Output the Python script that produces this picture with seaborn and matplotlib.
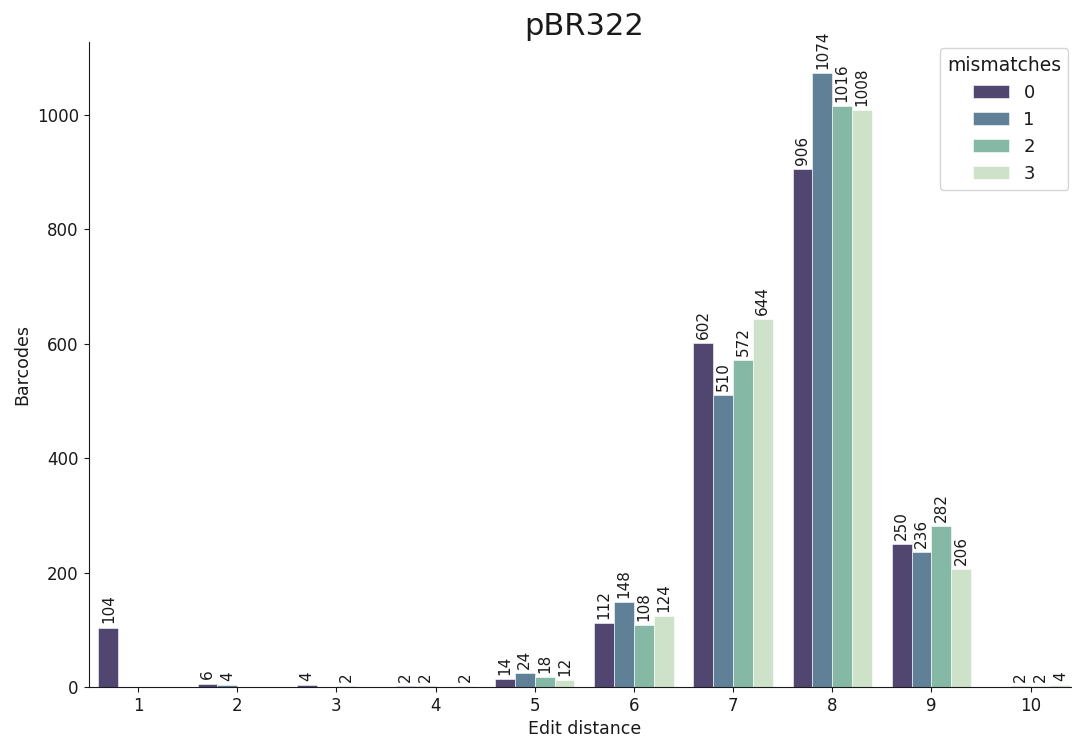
import matplotlib
matplotlib.use("Agg")
import matplotlib.pyplot as plt
import seaborn as sns
import pandas as pd

# ---- data ----
edit_distance = [1, 2, 3, 4, 5, 6, 7, 8, 9, 10]
mismatch_levels = ["0", "1", "2", "3"]
mm0 = [104, 6, 4, 2, 14, 112, 602, 906, 250, None]
mm1 = [None, 4, None, 2, 24, 148, 510, 1074, 236, 2]
mm2 = [None, None, 2, None, 18, 108, 572, 1016, 282, 2]
mm3 = [None, None, None, 2, 12, 124, 644, 1008, 206, 4]
colors = ["#504670", "#608098", "#86B9A5", "#CEE2CA"]

rows = []
for lvl, vals in zip(mismatch_levels, [mm0, mm1, mm2, mm3]):
    for d, v in zip(edit_distance, vals):
        if v is not None:
            rows.append({"Edit distance": d, "mismatches": lvl, "Barcodes": v})
df = pd.DataFrame(rows)

sns.set_style("ticks")
plt.rcParams["font.family"] = ["DejaVu Sans"]
for k in ["text.color", "axes.labelcolor", "xtick.color", "ytick.color"]:
    plt.rcParams[k] = "#1a1a1a"
plt.rcParams["axes.edgecolor"] = "#1a1a1a"

fig = plt.figure(figsize=(10.72, 7.4), dpi=100)
ax = fig.add_axes([0.0826, 0.0716, 0.925, 0.8716])

sns.barplot(data=df, x="Edit distance", y="Barcodes", hue="mismatches",
            order=edit_distance, hue_order=mismatch_levels,
            palette=colors, saturation=1, errorbar=None, ax=ax,
            linewidth=0.4, edgecolor="white")

for cont in ax.containers:
    ax.bar_label(cont, fmt="%d", rotation=90, padding=3, fontsize=11)

sns.despine(ax=ax)
ax.tick_params(axis="both", labelsize=12, length=3.5)
ax.set_xlabel("Edit distance", fontsize=12.5)
ax.set_ylabel("Barcodes", fontsize=12.5)
ax.set_title("pBR322", fontsize=22, pad=5)

leg = ax.legend(title="mismatches", loc="upper right",
                bbox_to_anchor=(0.988, 0.99), borderaxespad=0,
                fontsize=13, title_fontsize=13.5)

fig.savefig("out.png", dpi=100)
